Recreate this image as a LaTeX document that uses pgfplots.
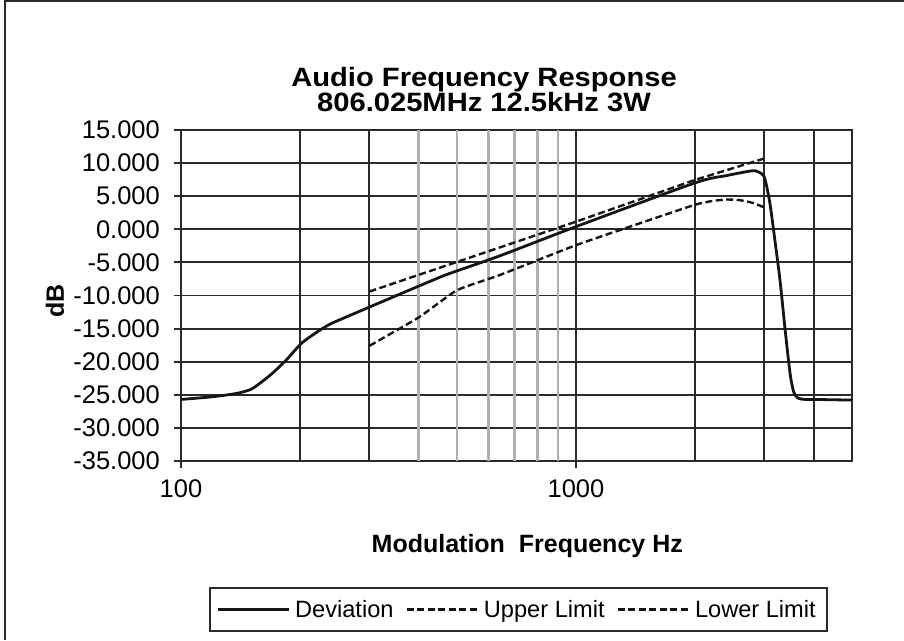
\documentclass[border=0pt]{standalone}
\usepackage{fontspec}
\setmainfont{Liberation Sans}
\newfontfamily\titlefont[FakeStretch=1.1]{Liberation Sans Bold}
\newcommand\titlesetup{\titlefont\fontsize{26.5}{25}\selectfont\lineskiplimit=-20pt\relax\lineskip=0pt\relax}
\usepackage{pgfplots}
\pgfplotsset{compat=1.18}
\definecolor{gridc}{HTML}{2A2A2A}
\definecolor{lgray}{HTML}{B0B0B0}
\definecolor{linec}{HTML}{151515}
\begin{document}
\begin{tikzpicture}[x=1pt,y=1pt]
\useasboundingbox (0,0) rectangle (904,640);
\draw[line width=2pt, gridc] (5,0) -- (5,639) -- (904,639);
\begin{axis}[
  at={(181pt,179pt)}, anchor=south west,
  scale only axis, width=671pt, height=331pt,
  xmode=log, log basis x=10,
  xmin=100, xmax=5000, ymin=-35, ymax=15,
  xtick={100,1000}, xticklabels={100,1000},
  minor xtick={200,300,2000,3000,4000},
  extra x ticks={400,500,600,700,800,900},
  extra x tick labels={},
  extra x tick style={grid=major, major grid style={lgray, line width=2.6pt}, major tick length=0pt},
  ytick={-35,-30,...,15},
  /pgf/number format/assume math mode=true,
  yticklabel={\pgfmathprintnumber[fixed,fixed zerofill,precision=3]{\tick}},
  grid=both,
  major grid style={gridc, line width=1.9pt},
  minor grid style={gridc, line width=1.9pt},
  axis line style={gridc, line width=2pt},
  tick style={gridc, line width=1.9pt},
  major tick length=7pt, minor tick length=0pt,
  tick align=outside, tick pos=left,
  tick label style={font=\fontsize{25.5}{30}\selectfont},
  yticklabel style={inner xsep=14pt},
  xticklabel style={yshift=-8pt},
  title={Audio Frequency Response\\806.025MHz 12.5kHz 3W},
  title style={font=\titlesetup, align=center,
    at={(axis description cs:0.4516,1.103)}, anchor=center},
  xlabel={Modulation\ \ Frequency Hz},
  xlabel style={font=\bfseries\fontsize{25}{28}\selectfont,
    at={(axis description cs:0.516,-0.257)}, anchor=center},
  ylabel={dB},
  ylabel style={font=\bfseries\fontsize{25}{28}\selectfont,
    at={(axis description cs:-0.188,0.483)}, anchor=center},
  legend columns=3,
  legend style={at={(axis description cs:0.503,-0.4486)}, anchor=center,
    draw=gridc, line width=1.8pt, font=\fontsize{23.6}{28}\selectfont,
    inner xsep=6pt, inner ysep=9pt,
    nodes={inner xsep=5pt, inner ysep=3pt},
    /tikz/every even column/.append style={column sep=7pt}},
  legend image code/.code={\draw[#1] (0pt,0pt) -- (71pt,0pt);},
]
\addplot[linec, line width=2.8pt, smooth, tension=0.45] coordinates {
  (100,-25.7) (120,-25.3) (138,-24.8) (150,-24.2) (158,-23.3) (170,-21.8)
  (185,-19.7) (202,-17.2) (220,-15.6) (238,-14.35) (268,-13.0) (304,-11.6)
  (435,-7.66) (480,-6.65) (642,-4.0) (1000,0.4) (2000,7.0) (2400,8.1)
  (2700,8.7) (2840,8.85) (2950,8.4) (3010,7.6) (3097,4.0) (3187,-1.5)
  (3286,-7.7) (3383,-15.0) (3485,-21.8) (3560,-24.6) (3650,-25.5) (3800,-25.7)
  (4000,-25.7) (5000,-25.8)
};
\addlegendentry{Deviation}
\addplot[linec, line width=2.4pt, dash pattern=on 7pt off 3.5pt] coordinates {
  (300,-9.4) (1000,1.15) (2000,7.45) (3000,10.7)
};
\addlegendentry{Upper Limit}
\addplot[linec, line width=2.4pt, dash pattern=on 7pt off 3.5pt, smooth, tension=0.3] coordinates {
  (300,-17.6) (400,-13.3) (500,-9.2) (642,-6.9) (1000,-2.4) (1500,1.2)
  (2000,3.7) (2200,4.25) (2400,4.5) (2600,4.4) (2800,4.0) (3000,3.3)
};
\addlegendentry{Lower Limit}
\end{axis}
\end{tikzpicture}
\end{document}
